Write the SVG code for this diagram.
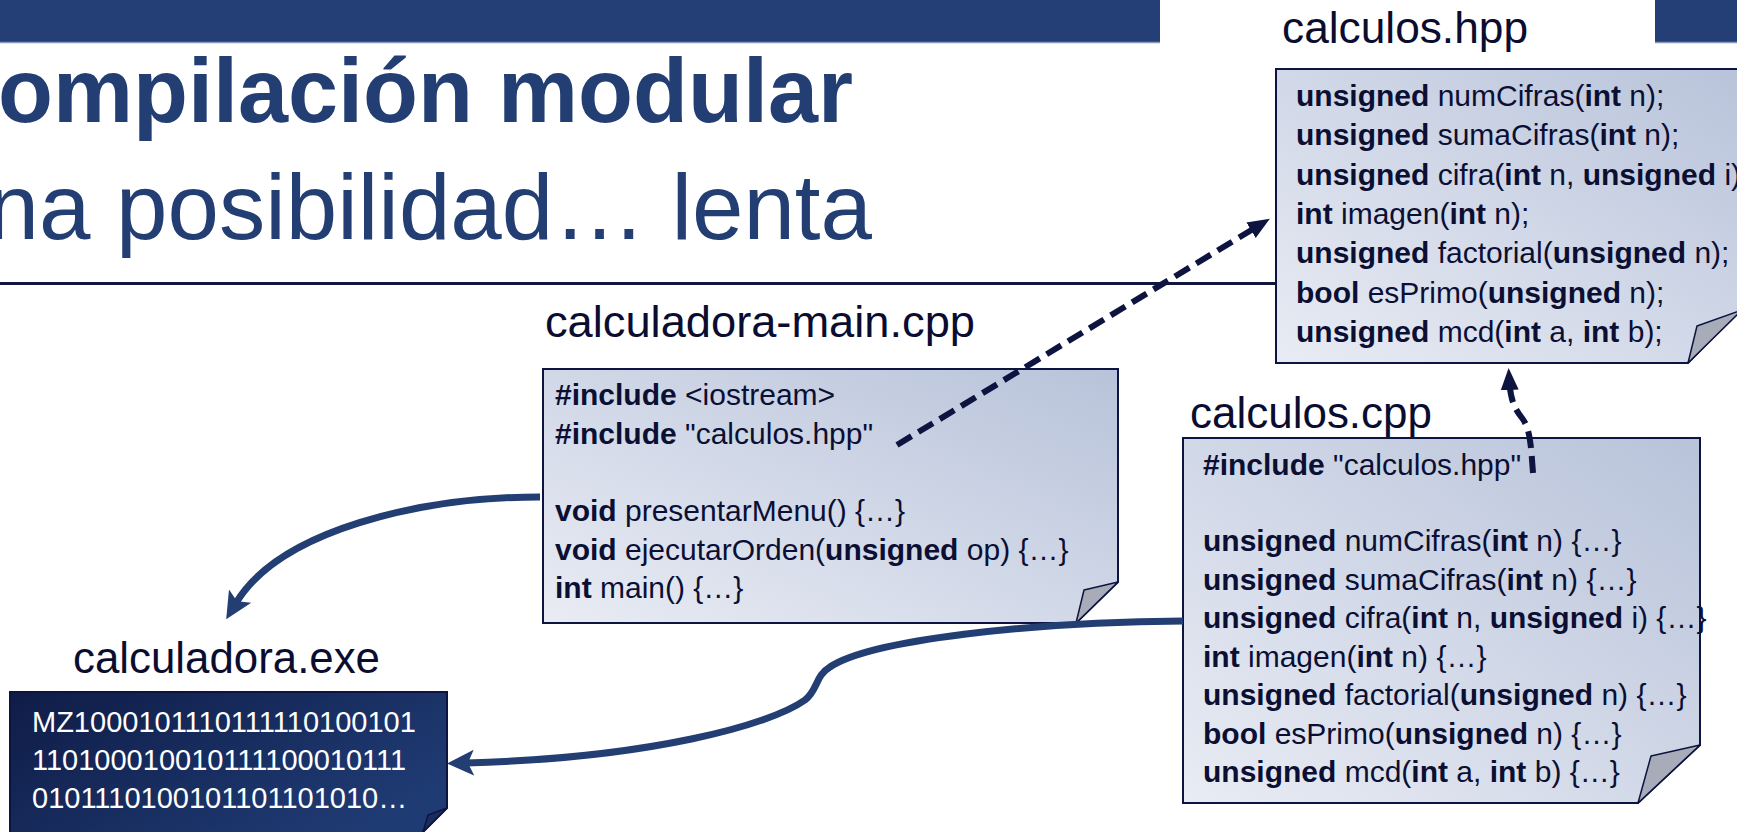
<svg xmlns="http://www.w3.org/2000/svg" width="1737" height="832" viewBox="0 0 1737 832">
  <defs>
    <linearGradient id="paper" x1="0" y1="1" x2="1" y2="0">
      <stop offset="0" stop-color="#e9ecf4"/>
      <stop offset="1" stop-color="#b8c3da"/>
    </linearGradient>
    <linearGradient id="dark" x1="0" y1="0" x2="1" y2="0.6">
      <stop offset="0" stop-color="#0f1c47"/>
      <stop offset="1" stop-color="#1f3b73"/>
    </linearGradient>
    <marker id="dashHead" markerUnits="userSpaceOnUse" markerWidth="24" markerHeight="24" viewBox="0 0 24 24" refX="14" refY="12" orient="auto">
      <path d="M0,3 L22,12 L0,21 Z" fill="#0d1440"/>
    </marker>
    <marker id="solidHead" markerUnits="userSpaceOnUse" markerWidth="30" markerHeight="28" viewBox="0 0 30 28" refX="8" refY="14" orient="auto">
      <path d="M0,1 L27,14 L0,27 L6,14 Z" fill="#233e73"/>
    </marker>
  </defs>
  <style>
    text { font-family: "Liberation Sans", Arial, sans-serif; }
    .title { fill: #233e73; font-size: 90px; }
    .title2 { font-size: 92.5px; }
    .label { fill: #0a0d30; font-size: 44px; }
    .code { fill: #0b0f33; font-size: 30px; }
    .bin { fill: #ffffff; font-size: 29px; }
    .b { font-weight: bold; }
    .box { fill: url(#paper); stroke: #0d1440; stroke-width: 2; }
    .flap { fill: #a8acb8; stroke: #0d1440; stroke-width: 1.5; stroke-linejoin: round; }
    .dbox { fill: url(#dark); stroke: #0d1440; stroke-width: 2; }
    .dflap { fill: #1a2d5e; stroke: #0d1440; stroke-width: 1.5; }
    .dash { fill: none; stroke: #0d1440; stroke-width: 6; stroke-dasharray: 17 8; marker-end: url(#dashHead); }
    .solid { fill: none; stroke: #233e73; stroke-width: 7; marker-end: url(#solidHead); }
  </style>

  <g id="header">
    <rect x="0" y="0" width="1160" height="42" fill="#243f75"/>
    <line x1="0" y1="42.5" x2="1160" y2="42.5" stroke="#8797bd" stroke-width="1.5"/>
    <rect x="1655" y="0" width="82" height="42" fill="#243f75"/>
    <line x1="1655" y1="42.5" x2="1737" y2="42.5" stroke="#8797bd" stroke-width="1.5"/>
    <text class="title b" x="853" y="122" text-anchor="end">Compilación modular</text>
    <text class="title title2" x="872" y="239" text-anchor="end">Una posibilidad… lenta</text>
    <line x1="0" y1="283.5" x2="1276" y2="283.5" stroke="#10163f" stroke-width="3"/>
  </g>

  <g id="hpp">
    <text class="label" x="1282" y="43" textLength="246" lengthAdjust="spacingAndGlyphs">calculos.hpp</text>
    <path class="box" d="M1276,69 H1745 V305 L1688,363 H1276 Z"/>
    <path class="flap" d="M1688,363 L1742,310 L1697,326 Z"/>
    <text class="code" x="1296" y="106"><tspan class="b">unsigned</tspan> numCifras(<tspan class="b">int</tspan> n);</text>
    <text class="code" x="1296" y="145"><tspan class="b">unsigned</tspan> sumaCifras(<tspan class="b">int</tspan> n);</text>
    <text class="code" x="1296" y="185"><tspan class="b">unsigned</tspan> cifra(<tspan class="b">int</tspan> n, <tspan class="b">unsigned</tspan> i);</text>
    <text class="code" x="1296" y="224"><tspan class="b">int</tspan> imagen(<tspan class="b">int</tspan> n);</text>
    <text class="code" x="1296" y="263"><tspan class="b">unsigned</tspan> factorial(<tspan class="b">unsigned</tspan> n);</text>
    <text class="code" x="1296" y="303"><tspan class="b">bool</tspan> esPrimo(<tspan class="b">unsigned</tspan> n);</text>
    <text class="code" x="1296" y="342"><tspan class="b">unsigned</tspan> mcd(<tspan class="b">int</tspan> a, <tspan class="b">int</tspan> b);</text>
  </g>

  <g id="main">
    <text class="label" x="545" y="337" textLength="430" lengthAdjust="spacingAndGlyphs">calculadora-main.cpp</text>
    <path class="box" d="M543,369 H1118 V582 L1076,623 H543 Z"/>
    <path class="flap" d="M1076,623 L1118,582 L1084,590 Z"/>
    <text class="code" x="555" y="405"><tspan class="b">#include</tspan> &lt;iostream&gt;</text>
    <text class="code" x="555" y="444"><tspan class="b">#include</tspan> "calculos.hpp"</text>
    <text class="code" x="555" y="521"><tspan class="b">void</tspan> presentarMenu() {…}</text>
    <text class="code" x="555" y="560"><tspan class="b">void</tspan> ejecutarOrden(<tspan class="b">unsigned</tspan> op) {…}</text>
    <text class="code" x="555" y="598"><tspan class="b">int</tspan> main() {…}</text>
  </g>

  <g id="cpp">
    <text class="label" x="1190" y="428" textLength="242" lengthAdjust="spacingAndGlyphs">calculos.cpp</text>
    <path class="box" d="M1183,438 H1700 V745 L1638,803 H1183 Z"/>
    <path class="flap" d="M1638,803 L1700,745 L1651,756 Z"/>
    <text class="code" x="1203" y="475"><tspan class="b">#include</tspan> "calculos.hpp"</text>
    <text class="code" x="1203" y="551"><tspan class="b">unsigned</tspan> numCifras(<tspan class="b">int</tspan> n) {…}</text>
    <text class="code" x="1203" y="590"><tspan class="b">unsigned</tspan> sumaCifras(<tspan class="b">int</tspan> n) {…}</text>
    <text class="code" x="1203" y="628"><tspan class="b">unsigned</tspan> cifra(<tspan class="b">int</tspan> n, <tspan class="b">unsigned</tspan> i) {…}</text>
    <text class="code" x="1203" y="667"><tspan class="b">int</tspan> imagen(<tspan class="b">int</tspan> n) {…}</text>
    <text class="code" x="1203" y="705"><tspan class="b">unsigned</tspan> factorial(<tspan class="b">unsigned</tspan> n) {…}</text>
    <text class="code" x="1203" y="744"><tspan class="b">bool</tspan> esPrimo(<tspan class="b">unsigned</tspan> n) {…}</text>
    <text class="code" x="1203" y="782"><tspan class="b">unsigned</tspan> mcd(<tspan class="b">int</tspan> a, <tspan class="b">int</tspan> b) {…}</text>
  </g>

  <g id="exe">
    <text class="label" x="73" y="673" textLength="307" lengthAdjust="spacingAndGlyphs">calculadora.exe</text>
    <path class="dbox" d="M10,692 H447 V808 L419,836 H10 Z"/>
    <path class="dflap" d="M423,832 L447,808 L428,815 Z"/>
    <text class="bin" x="32" y="732">MZ1000101110111110100101</text>
    <text class="bin" x="32" y="770">110100010010111100010111</text>
    <text class="bin" x="32" y="808">0101110100101101101010…</text>
  </g>

  <g id="connectors">
    <path class="dash" d="M897,445 L1263,223"/>
    <path class="dash" d="M1533,473 C1531,445 1530,428 1522,418 C1513,407 1510,397 1509,376"/>
    <path class="solid" d="M540,497 C420,497 280,530 236,603"/>
    <path class="solid" d="M1183,621 C1030,622 870,640 830,667 C815,676 818,690 805,700 C770,725 650,758 466,763"/>
  </g>
</svg>
